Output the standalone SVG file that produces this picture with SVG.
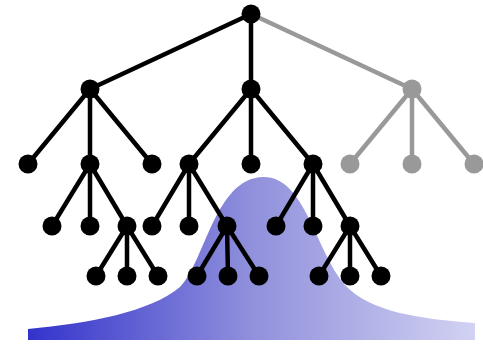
<svg xmlns="http://www.w3.org/2000/svg" width="483" height="345" viewBox="0 0 483 345">
<defs>
<linearGradient id="g" x1="28" y1="0" x2="475" y2="0" gradientUnits="userSpaceOnUse">
<stop offset="0" stop-color="#3333cc"/>
<stop offset="0.5" stop-color="#9090dc"/>
<stop offset="1" stop-color="#d2d2f3"/>
</linearGradient>
<style>
.e{stroke:#000;stroke-width:4.5;fill:none}
.eg{stroke:#999;stroke-width:4.5;fill:none}
.n{fill:#000}
.ng{fill:#999}
</style>
</defs>
<rect width="483" height="345" fill="#fff"/>
<path id="curve" d="M28,329 C90,323 150,312 180,287 C205,262 215,178 263,177 C305,176 315,250 345,285 C370,312 420,319 475,323 L475,340 L28,340 Z" fill="url(#g)"/>
<g id="connectors">
<path class="e" d="M251,14 L90,89 M251,14 L251,89 M90,89 L28,164 M90,89 L90,164 M90,89 L152,164 M251,89 L189,164 M251,89 L251,164 M251,89 L313,164 M90,164 L52,226 M90,164 L90,226 M90,164 L127,226 M189,164 L152,226 M189,164 L189,226 M189,164 L227,226 M313,164 L276,226 M313,164 L313,226 M313,164 L350,226 M127,226 L96,276 M127,226 L127,276 M127,226 L158,276 M227,226 L197,276 M227,226 L228,276 M227,226 L259,276 M350,226 L319,276 M350,226 L350,276 M350,226 L381,276"/>
<path class="eg" d="M251,14 L412,89 M412,89 L350,164 M412,89 L412,164 M412,89 L474,164"/>
</g>
<g id="root"><circle class="n" cx="251" cy="14" r="9.5"/></g>
<g id="n1a"><circle class="n" cx="90" cy="89" r="9.5"/></g>
<g id="n1b"><circle class="n" cx="251" cy="89" r="9.5"/></g>
<g id="n1c"><circle class="ng" cx="412" cy="89" r="9.5"/></g>
<g id="n2a"><circle class="n" cx="28" cy="164" r="9.5"/></g>
<g id="n2b"><circle class="n" cx="90" cy="164" r="9.5"/></g>
<g id="n2c"><circle class="n" cx="152" cy="164" r="9.5"/></g>
<g id="n2d"><circle class="n" cx="189" cy="164" r="9.5"/></g>
<g id="n2e"><circle class="n" cx="251" cy="164" r="9.5"/></g>
<g id="n2f"><circle class="n" cx="313" cy="164" r="9.5"/></g>
<g id="n2g"><circle class="ng" cx="350" cy="164" r="9.5"/></g>
<g id="n2h"><circle class="ng" cx="412" cy="164" r="9.5"/></g>
<g id="n2i"><circle class="ng" cx="474" cy="164" r="9.5"/></g>
<g id="n3a"><circle class="n" cx="52" cy="226" r="9.5"/></g>
<g id="n3b"><circle class="n" cx="90" cy="226" r="9.5"/></g>
<g id="n3c"><circle class="n" cx="127" cy="226" r="9.5"/></g>
<g id="n3d"><circle class="n" cx="152" cy="226" r="9.5"/></g>
<g id="n3e"><circle class="n" cx="189" cy="226" r="9.5"/></g>
<g id="n3f"><circle class="n" cx="227" cy="226" r="9.5"/></g>
<g id="n3g"><circle class="n" cx="276" cy="226" r="9.5"/></g>
<g id="n3h"><circle class="n" cx="313" cy="226" r="9.5"/></g>
<g id="n3i"><circle class="n" cx="350" cy="226" r="9.5"/></g>
<g id="n4a"><circle class="n" cx="96" cy="276" r="9.5"/></g>
<g id="n4b"><circle class="n" cx="127" cy="276" r="9.5"/></g>
<g id="n4c"><circle class="n" cx="158" cy="276" r="9.5"/></g>
<g id="n4d"><circle class="n" cx="197" cy="276" r="9.5"/></g>
<g id="n4e"><circle class="n" cx="228" cy="276" r="9.5"/></g>
<g id="n4f"><circle class="n" cx="259" cy="276" r="9.5"/></g>
<g id="n4g"><circle class="n" cx="319" cy="276" r="9.5"/></g>
<g id="n4h"><circle class="n" cx="350" cy="276" r="9.5"/></g>
<g id="n4i"><circle class="n" cx="381" cy="276" r="9.5"/></g>
</svg>
